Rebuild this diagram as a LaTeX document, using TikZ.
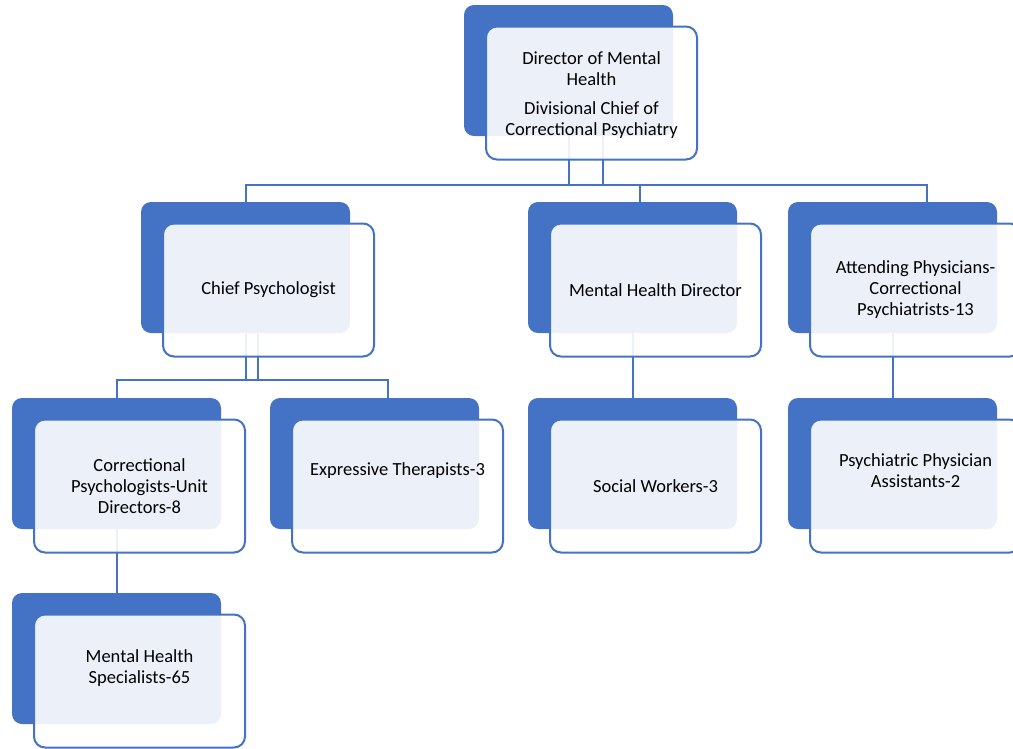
\documentclass[tikz,border=0pt]{standalone}
\usepackage{fontspec}
\setmainfont{Carlito}
\usetikzlibrary{calc,backgrounds}
\definecolor{accent}{HTML}{4472C4}
\begin{document}
\begin{tikzpicture}[x=1pt,y=-1pt,
  darkbox/.style={fill=accent, rounded corners=10pt, minimum width=209pt, minimum height=131pt, inner sep=0pt, outer sep=0pt},
  litebox/.style={draw=accent, line width=2pt, fill=white, fill opacity=0.9, rounded corners=11pt, minimum width=211pt, minimum height=133pt, inner sep=0pt, outer sep=0pt},
  boxtext/.style={font=\fontsize{18.5}{21}\selectfont, align=center, text=black, inner sep=0pt},
  conn/.style={draw=accent, line width=2pt}]
\clip (0,0) rectangle (1013,748);
% dark boxes
\node[darkbox] (dTop)   at (568.5,70.5) {};
\node[darkbox] (dChief) at (245.5,267.5) {};
\node[darkbox] (dMHD)   at (632.5,267.5) {};
\node[darkbox] (dAtt)   at (892.5,267.5) {};
\node[darkbox] (dCorr)  at (116.5,463.5) {};
\node[darkbox] (dExpr)  at (374.5,463.5) {};
\node[darkbox] (dSoc)   at (632.5,463.5) {};
\node[darkbox] (dPsy)   at (892.5,463.5) {};
\node[darkbox] (dMHS)   at (116.5,658.5) {};
% light boxes
\node[litebox] (wTop)   at ($(dTop)+(23,22.5)$) {};
\node[litebox] (wChief) at ($(dChief)+(23,22.5)$) {};
\node[litebox] (wMHD)   at ($(dMHD)+(23,22.5)$) {};
\node[litebox] (wAtt)   at ($(dAtt)+(23,22.5)$) {};
\node[litebox] (wCorr)  at ($(dCorr)+(23,22.5)$) {};
\node[litebox] (wExpr)  at ($(dExpr)+(23,22.5)$) {};
\node[litebox] (wSoc)   at ($(dSoc)+(23,22.5)$) {};
\node[litebox] (wPsy)   at ($(dPsy)+(23,22.5)$) {};
\node[litebox] (wMHS)   at ($(dMHS)+(23,22.5)$) {};
% texts
\node[boxtext] (tTop) at ($(wTop)+(0,2)$) {Director of Mental\\Health\\[8pt]Divisional Chief of\\Correctional Psychiatry};
\node[boxtext] (tChief) at (wChief) {Chief Psychologist};
\node[boxtext] (tMHD) at (wMHD) {Mental Health Director};
\node[boxtext] (tAtt) at (wAtt) {Attending Physicians-\\Correctional\\Psychiatrists-13};
\node[boxtext] (tCorr) at (wCorr) {Correctional\\Psychologists-Unit\\Directors-8};
\node[boxtext] (tExpr) at ($(wExpr)+(0,-15)$) {Expressive Therapists-3};
\node[boxtext] (tSoc) at (wSoc) {Social Workers-3};
\node[boxtext] (tPsy) at ($(wPsy)+(0,-15)$) {Psychiatric Physician\\Assistants-2};
\node[boxtext] (tMHS) at ($(wMHS)+(0,-13)$) {Mental Health\\Specialists-65};
% connectors
\coordinate (yb1) at (0,185);
\coordinate (yb2) at (0,380);
\begin{scope}[on background layer]
\draw[conn] (dTop.center) |- ($(dTop.center |- yb1)+(34.5,0)$) -- ($(dTop.center)+(34.5,0)$);
\draw[conn] (dChief.north) -- (dChief.north |- yb1) -- ($(dAtt.north |- yb1)+(34.5,0)$) -- ($(dAtt.north)+(34.5,0)$);
\draw[conn] ($(dMHD.north)+(7.5,0)$) -- ($(dMHD.north |- yb1)+(7.5,0)$);
\draw[conn] (dChief.center) -- (dChief.center |- yb2);
\draw[conn] ($(dChief.center)+(12.5,0)$) -- ($(dChief.center |- yb2)+(12.5,0)$);
\draw[conn] (dCorr.north) -- (dCorr.north |- yb2) -- ($(dExpr.north |- yb2)+(13.5,0)$) -- ($(dExpr.north)+(13.5,0)$);
\draw[conn] (dCorr.center) -- (dMHS.north);
\draw[conn] (dMHD.center) -- (dSoc.north);
\draw[conn] (dAtt.center) -- (dPsy.north);
\end{scope}
\end{tikzpicture}
\end{document}
